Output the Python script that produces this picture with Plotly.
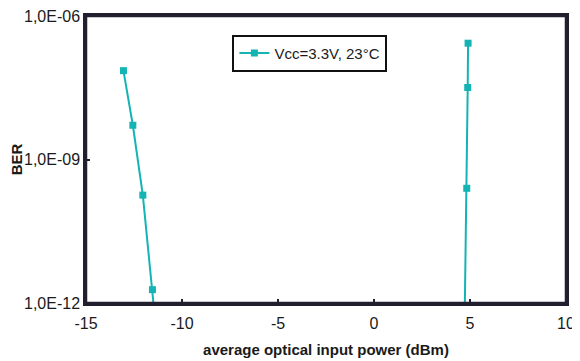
import plotly.graph_objects as go

# Data (one series, gap between the two branches)
power_dbm = [-13.05, -12.56, -12.04, -11.54, -11.0, None, 4.70, 4.83, 4.88, 4.90]
ber = [7.2e-8, 5.2e-9, 1.8e-10, 1.9e-12, 1e-14, None, 1e-13, 2.5e-10, 3.2e-8, 2.7e-7]
series_name = "Vcc=3.3V, 23°C"

y_tickvals = [1e-12, 1e-9, 1e-6]
y_ticktext = ["1,0E-12", "1,0E-09", "1,0E-06"]
x_tickvals = [-15, -10, -5, 0, 5, 10]
x_ticktext = ["-15", "-10", "-5", "0", "5", "10"]

teal = "#14b4b4"
axis_col = "#231f2e"
font_fam = "Liberation Sans, Arial, sans-serif"

fig = go.Figure()
fig.add_trace(go.Scatter(
    x=power_dbm, y=ber, name=series_name, mode="lines+markers",
    line=dict(color=teal, width=2),
    marker=dict(color=teal, symbol="square", size=7),
    connectgaps=False,
))

fig.update_layout(
    width=572, height=353,
    margin=dict(l=78, r=14, t=8, b=58),
    paper_bgcolor="white", plot_bgcolor="white",
    font=dict(family=font_fam, size=16, color="#1a1a1a"),
    showlegend=True,
    legend=dict(
        x=0.305, y=0.935, xanchor="left", yanchor="top",
        bgcolor="white", bordercolor="#111111", borderwidth=2,
        font=dict(size=15, family=font_fam),
        itemwidth=30, tracegroupgap=0,
    ),
    xaxis=dict(
        range=[-15, 10], tickvals=x_tickvals, ticktext=x_ticktext,
        ticks="inside", ticklen=4, tickwidth=2, tickcolor=axis_col,
        showline=True, linecolor=axis_col, linewidth=2.5, mirror=True,
        showgrid=False, zeroline=False, automargin=False,
        ticklabeloverflow="allow", ticklabelstandoff=4,
        title=dict(text="<b>average optical input power (dBm)</b>", font=dict(size=15), standoff=14),
    ),
    yaxis=dict(
        type="log", range=[-12, -6],
        tickvals=y_tickvals, ticktext=y_ticktext,
        ticks="inside", ticklen=4, tickwidth=2, tickcolor=axis_col,
        showline=True, linecolor=axis_col, linewidth=2.5, mirror=True,
        showgrid=False, zeroline=False, automargin=False,
        ticklabeloverflow="allow",
        title=dict(text="<b>BER</b>", font=dict(size=15), standoff=2),
    ),
)

# plot frame drawn explicitly as well
fig.add_shape(type="rect", xref="paper", yref="paper", x0=0, x1=1, y0=0, y1=1,
              line=dict(color=axis_col, width=2.5), layer="above")

fig.write_html("out.html")
